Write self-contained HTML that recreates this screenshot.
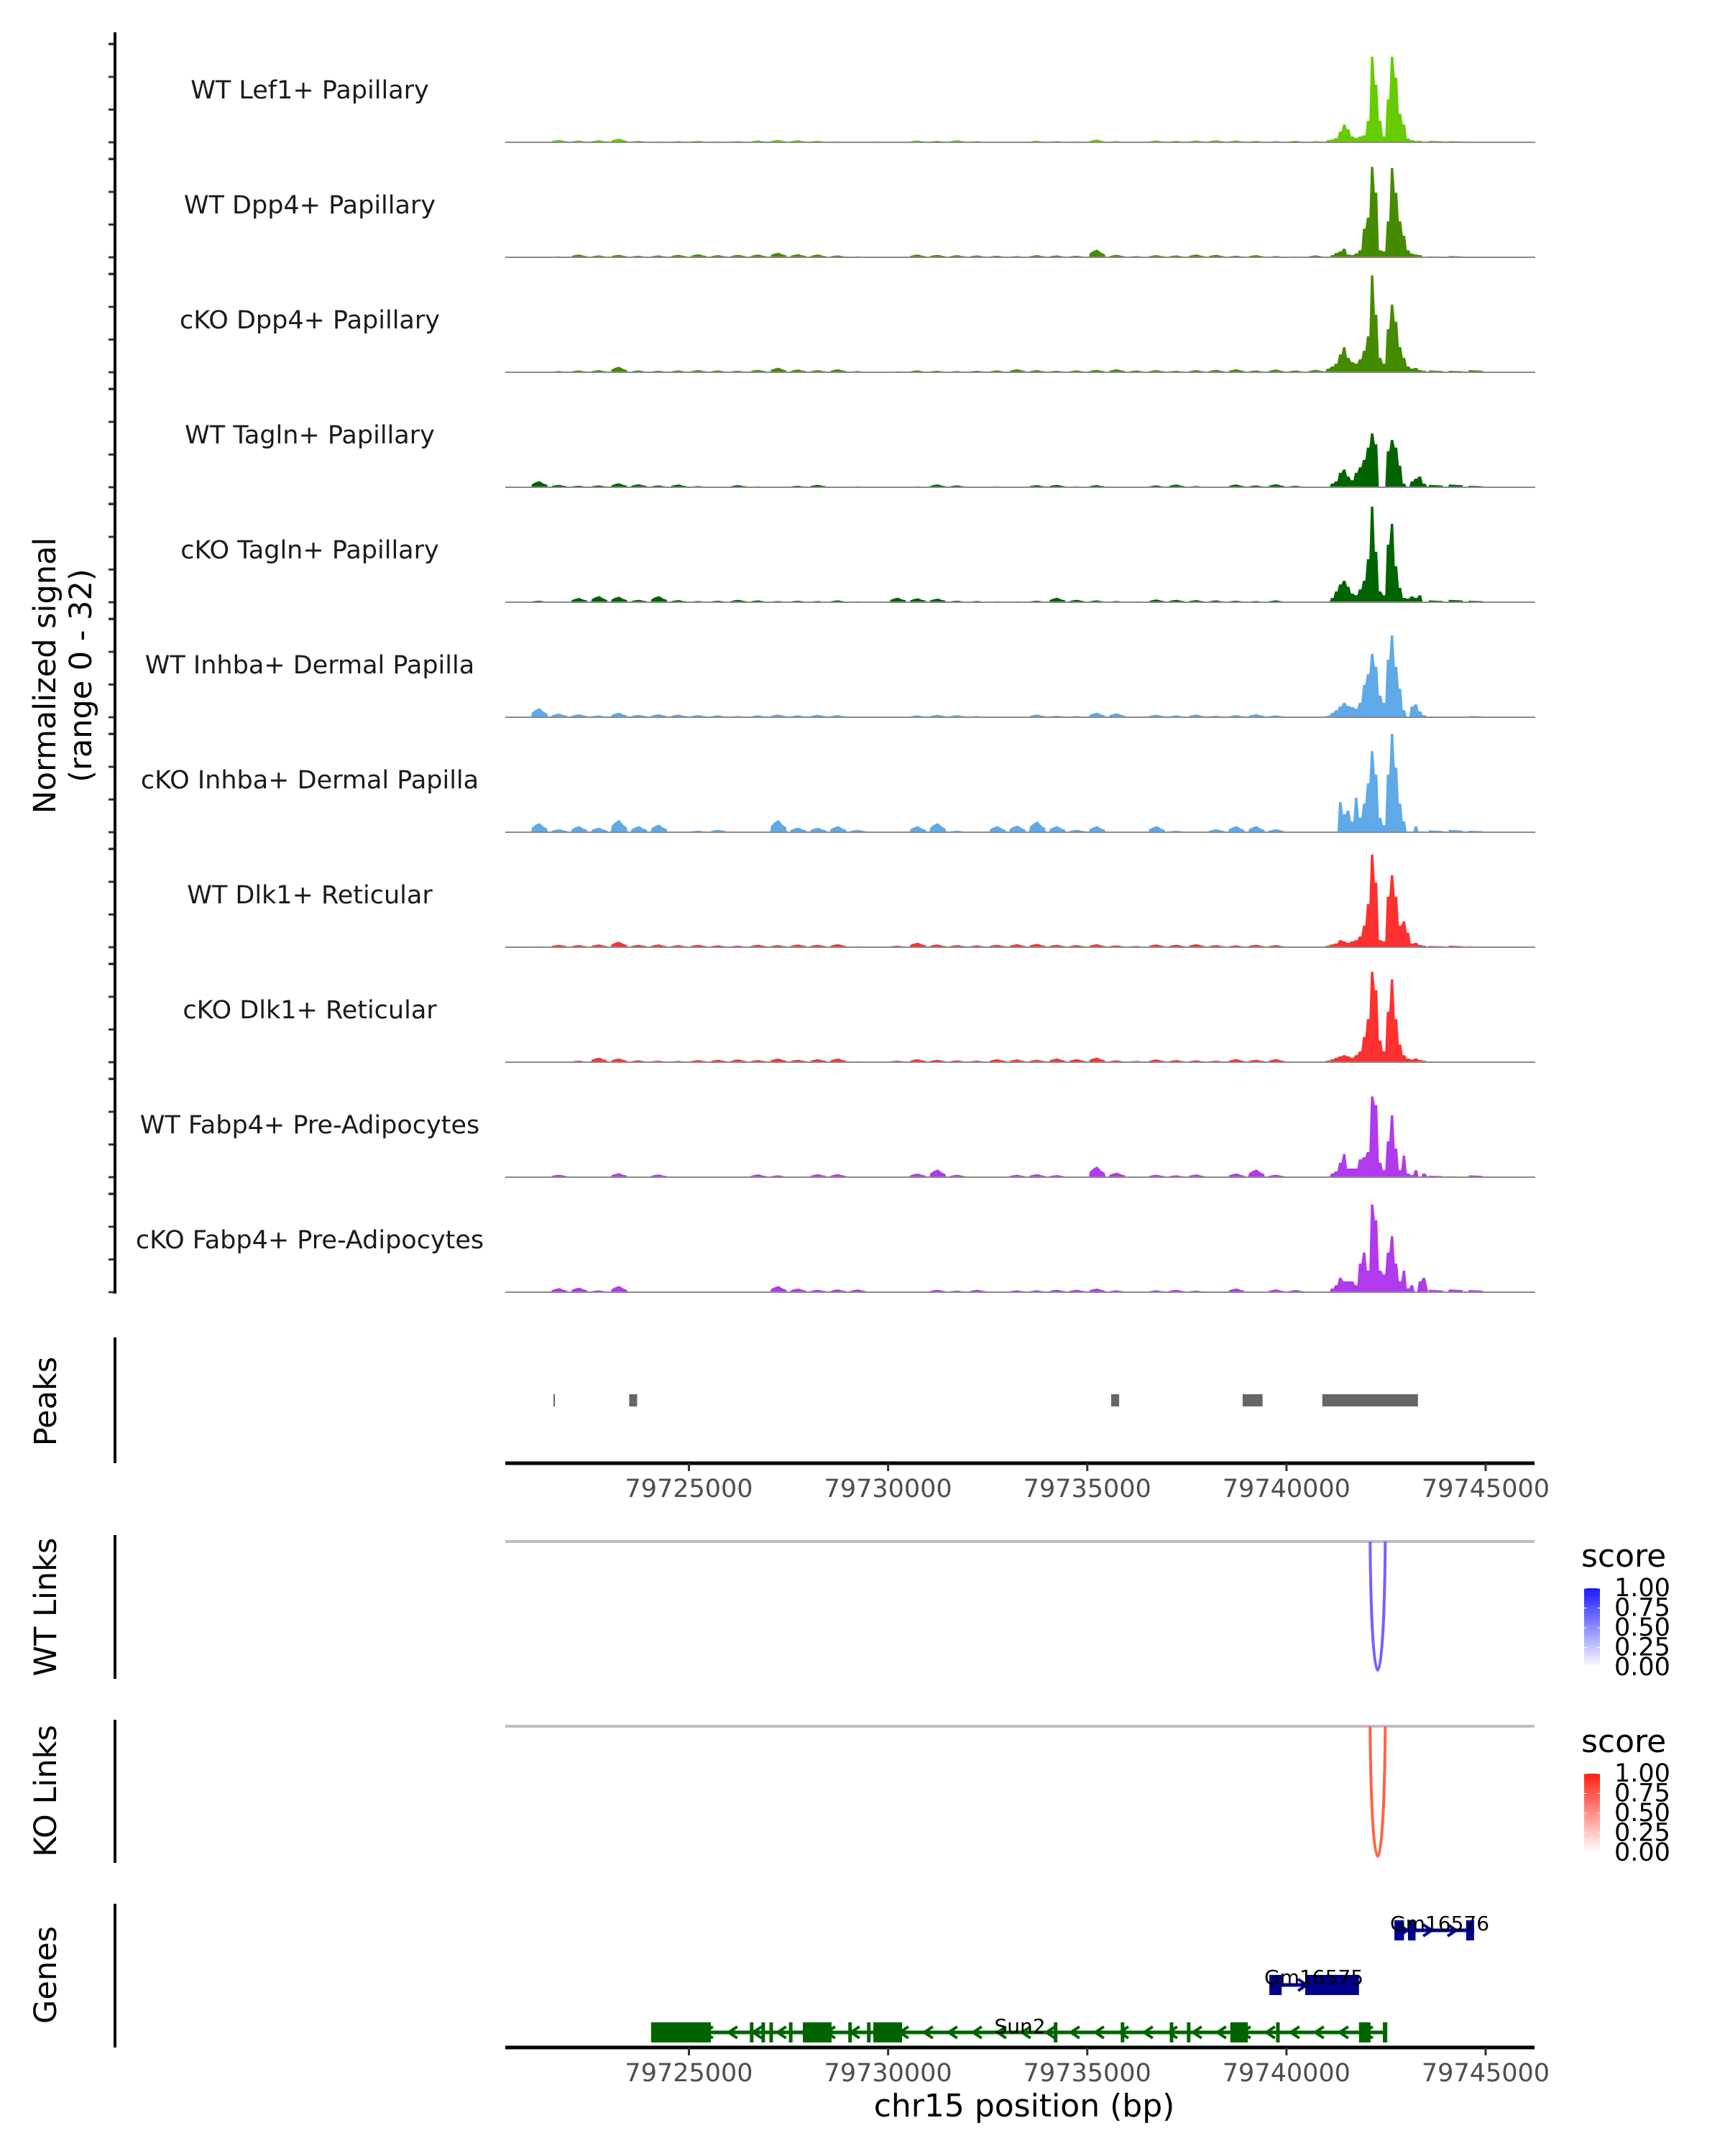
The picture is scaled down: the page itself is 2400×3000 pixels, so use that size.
<!DOCTYPE html>
<html><head><meta charset="utf-8"><style>
html,body{margin:0;padding:0;background:#fff;}
svg{display:block;font-family:"DejaVu Sans","Liberation Sans",sans-serif;}
</style></head><body>
<svg id="fig" width="2400" height="3000" viewBox="0 0 2400 3000" xmlns="http://www.w3.org/2000/svg"></svg>
<script>
// ---- data ----
const trackNames = ["WT Lef1+ Papillary","WT Dpp4+ Papillary","cKO Dpp4+ Papillary","WT Tagln+ Papillary","cKO Tagln+ Papillary","WT Inhba+ Dermal Papilla","cKO Inhba+ Dermal Papilla","WT Dlk1+ Reticular","cKO Dlk1+ Reticular","WT Fabp4+ Pre-Adipocytes","cKO Fabp4+ Pre-Adipocytes"];
const trackColors = ["#66cc00","#458b00","#458b00","#006400","#006400","#5fa9e9","#5fa9e9","#ff3030","#ff3030","#b23aee","#b23aee"];
// background signal, 500bp bins from 79721000 to 79741000
const bg1 = [0,0.8,0.6,0.7,1.2,0.5,0.3,0.4,0.5,0.3,0.4,0.6,0.8,0.7,0.5,0.3,0,0.3,0.2,0.6,0.5,0.7,0.4,0.2,0.3,0.5,0.4,0.3,0.9,0.4,0.3,0.6,0.5,0.6,0.7,0.6,0.5,0.4,0.5,0.4];
const bg2 = [0,0.3,0.9,0.6,0.8,0.5,0.6,0.8,1,0.7,0.8,0.9,1.5,1,0.9,0.6,0.3,0,0.2,0.9,0.8,0.7,0.6,0.5,0.4,0.7,0.6,0.5,2.5,0.8,0.4,0.7,0.6,0.9,0.8,0.5,0.7,0.4,0.3,0.6];
const bg3 = [0.2,0.4,0.6,0.7,1.8,0.6,0.5,0.6,0.7,0.6,0.5,0.8,1.5,0.9,0.7,1,0.4,0.2,0.3,0.6,0.5,0.4,0.5,0.6,1,0.7,0.5,0.6,0.8,1,0.6,0.7,0.5,0.7,0.8,1,0.6,0.9,0.6,0.8];
const bg4 = [2,0.8,0.5,0.6,1.3,1,0.6,0.9,0.4,0,0.7,0.3,0,0.5,0.8,0,0.3,0,0,0.3,0.9,0.6,0,0.3,0,0.7,0.8,0.3,0.7,0,0,0.6,0.9,0.4,0,0.9,0.6,1,0.5,0];
const bg5 = [0.5,0,1.4,2,1.8,0.8,2,0.7,0.4,0.5,0.8,0.6,0.4,0.5,0.4,0.6,0.3,0,1.5,1.3,1.2,0.5,0.4,0.3,0.3,0.5,1.5,0.8,0.6,0.4,0.3,0.9,0.8,0.7,0.6,0.5,0.4,0.6,0,0];
const bg6 = [3,1.2,1,0.6,1.5,0.8,1,0.9,0.7,0.6,0.4,0.6,0.9,0.6,0.8,0.7,0.3,0,0.2,0.6,0.8,0.7,0.4,0.2,0.3,0.9,0.5,0.4,1.5,1.3,0.3,0.8,0.6,0.9,0.5,0.7,1,0.6,0,0];
const bg7 = [3,1,2,1.5,4,2,2.5,0,0.5,0.8,0,0,4,1.5,1.5,2,0.8,0,0,2,3,0.5,0,2,2.2,3.5,2,0.8,2,0,0,2,0.5,0,1,2,2,1,0,0];
const bg8 = [0.3,0.8,0.7,0.9,1.8,0.8,0.9,0.7,0.8,0.6,0.5,0.8,0.7,0.9,0.8,1,0.3,0,0.5,1.5,0.9,0.7,0.6,0.8,1,1.1,0.8,0.7,1,0.6,0.4,0.9,0.8,1,0.7,0.6,0.8,0.7,0,0];
const bg9 = [0,0,0.5,1.5,1.2,0.6,0.5,0.4,0.7,0.8,0.9,0.7,1.2,0.8,1,1.2,0.3,0,0.5,1,0.8,0.6,0.5,1,0.9,0.8,1.2,1,1.5,0.6,0.4,0.9,0.7,0.6,0.5,1,0.8,1,0,0];
const bg10 = [0,0.8,0,0,1.3,0,0.9,0,0,0,0,0.9,0.6,0,1,1,0,0,0,1.2,2.5,0.8,0,0,0.8,1,0.7,0,3.5,1.5,0,0.8,0.6,0.9,0,1.2,2.5,0.8,0,0];
const bg11 = [0,1.3,1.5,0.6,2,0,0,0,0,0,0,0,2,1.2,0.8,0.9,0.9,0,0,0,0.8,0.5,0.8,0,0.6,0.6,0.8,0.8,1.2,0.6,0,0.6,0.8,0.5,0,1.2,0,0.9,0.7,0];
// peak region signal, 100bp bins from 79741000 to 79743500
const pk1 = [0.7,0.9,1.4,3.5,5.8,4.2,1.9,1.4,1.9,2.3,7,27.8,18.7,7,1.9,14,27.8,21,9.3,5.8,1.2,0.7,0.5,0.5,0.2];
const pk2 = [0,0.7,1.4,1.9,2.8,0.9,0.7,1.2,2.3,9.3,12.9,29.4,21,2.3,1.9,11.7,29,21,11.7,7,2.3,1.2,0.9,0.7,0.2];
const pk3 = [1.2,1.9,2.8,5.8,8.2,4.7,3.3,2.8,4.2,7,11.7,31.5,18.7,4.7,2.8,14,22,16.4,8.2,4.7,1.9,1.2,1.4,0.7,0.5];
const pk4 = [0,1.2,1.9,4.7,5.8,3.5,2.3,4.7,6.5,8.9,12.9,17.5,14,0,0,11.7,15.4,12.9,7,1.2,0,1.9,2.8,3.5,1.2];
const pk5 = [0,1.4,3.5,5.8,7,5.1,2.8,2.3,4.2,7,14,31.1,16.4,3.5,2.3,18.7,25.5,11.7,4.7,1.4,1.2,1.9,1.4,2.3,0];
const pk6 = [0.5,1.4,2.3,3.5,4.7,3.7,3.3,2.8,4.7,10.5,14,20.6,16.4,7,4.7,18.7,26.6,16.4,9.3,2.3,0,3.5,4.2,1.9,0.7];
const pk7 = [0,0,0,9.8,5.8,7,3.5,11.2,4.7,9.3,15.9,26.4,18.7,4.7,2.3,18.7,32,21,9.3,3.5,0,0,1.9,0,0];
const pk8 = [0.5,0.9,1.2,2.3,1.9,1.4,1.9,2.3,3.5,7,14,30.1,21,2.3,1.9,16.4,23.4,16.4,7,8.4,4.7,1.2,1.4,0.7,0.5];
const pk9 = [0.5,0.9,1.4,1.9,2.3,1.9,1.4,2.3,3.5,8.2,14,29.4,23.4,7,3.5,16.4,26.9,14,5.8,2.3,1.2,0.9,1.2,0.7,0.5];
const pk10 = [0,1.2,1.9,4.7,7.5,2.8,2.8,2.8,5.8,6.5,8.2,26.2,23.4,4.7,2.3,11.7,20.1,9.3,2.3,7,1.2,0.7,2.3,0,1.2];
const pk11 = [0,1.2,2.3,4.7,3.5,3.5,3.5,2.3,9.3,12.9,7,28.5,23.4,7,5.8,12.9,18.2,9.3,3.5,7,1.2,2.3,0,3.5,4.7];
// tail signal, 500bp bins from 79743500 to 79745000
const tl1 = [0.5,0.4,0.3], tl2=[0.3,0.4,0], tl3=[0.6,0.5,0.7], tl4=[0.8,0.9,0.5], tl5=[0.6,0.8,0.5];
const tl6 = [0.3,0,0.4], tl7=[0.6,0.8,0.5], tl8=[0.4,0.5,0.3], tl9=[0.3,0.2,0.2], tl10=[0.5,0.3,0.6], tl11=[0.8,0.9,0.7];
const bgSets = [bg1,bg2,bg3,bg4,bg5,bg6,bg7,bg8,bg9,bg10,bg11];
const pkSets = [pk1,pk2,pk3,pk4,pk5,pk6,pk7,pk8,pk9,pk10,pk11];
const tlSets = [tl1,tl2,tl3,tl4,tl5,tl6,tl7,tl8,tl9,tl10,tl11];
const peakStarts = [79721600,79723500,79735600,79738900,79740900];
const peakEnds   = [79721630,79723700,79735800,79739400,79743300];
const xTicks = [79725000,79730000,79735000,79740000,79745000];
const legendTicks = ["1.00","0.75","0.50","0.25","0.00"];
const wtLink = [79742100,79742480,1.0];
const koLink = [79742100,79742480,1.0];
// genes: [start,end]
const sun2Exons = [[79724050,79725550],[79726530,79726590],[79726820,79726880],[79727020,79727080],[79727510,79727570],[79727860,79728580],[79729000,79729060],[79729470,79729530],[79729630,79730350],[79734160,79734220],[79735840,79735900],[79737070,79737130],[79737500,79737560],[79738590,79739030],[79739740,79739800],[79741820,79742110],[79742420,79742530]];
const gm75Exons = [[79739570,79739880],[79740470,79741820]];
const gm76Exons = [[79742710,79742950],[79743050,79743240],[79744510,79744710]];

// ---- scales ----
const X0=703, X1=2135, BP0=79720390, BP1=79746227;
function xs(bp){return X0+(bp-BP0)/(BP1-BP0)*(X1-X0);}
const TRACK_H=137, SIGMAX=32;
function ys(base,v){return base-Math.min(v,SIGMAX)/SIGMAX*TRACK_H;}
const svg=document.getElementById('fig');
const NS="http://www.w3.org/2000/svg";
function mk(tag,attrs,parent){const e=document.createElementNS(NS,tag);for(const k in attrs)e.setAttribute(k,attrs[k]);(parent||svg).appendChild(e);return e;}
function txt(s,attrs,parent){const e=mk('text',attrs,parent);e.textContent=s;return e;}

// ---- signal tracks ----
const gTracks=mk('g',{});


for(let t=0;t<11;t++){
  const base=198+160*t;
  const g=mk('g',{},gTracks);
  
  
  let pts=[[xs(79721000),base]];
  bgSets[t].forEach((v,i)=>{const s=79721000+i*500;
    if(v<=0){pts.push([xs(s+100),base]);pts.push([xs(s+400),base]);return;}
    pts.push([xs(s+40),base]);pts.push([xs(s+60),ys(base,v*0.5)]);pts.push([xs(s+150),ys(base,v*0.8)]);
    pts.push([xs(s+250),ys(base,v)]);pts.push([xs(s+350),ys(base,v*0.6)]);pts.push([xs(s+440),ys(base,v*0.4)]);pts.push([xs(s+460),base]);});
  pkSets[t].forEach((v,i)=>{pts.push([xs(79741000+i*100+20),ys(base,v)]);pts.push([xs(79741000+i*100+80),ys(base,v)]);});
  tlSets[t].forEach((v,i)=>{const s=79743500+i*500;
    pts.push([xs(s+60),base]);pts.push([xs(s+80),ys(base,v)]);pts.push([xs(s+420),ys(base,v*0.7)]);pts.push([xs(s+440),base]);});
  pts.push([xs(79745000),base]);
  const area=mk('polygon',{points:pts.map(p=>p[0].toFixed(1)+','+p[1].toFixed(1)).join(' '),fill:trackColors[t]},g);
  
  
  const bl=mk('line',{x1:X0,x2:X1+1,y1:base,y2:base,stroke:'#8a8a8a','stroke-width':2},g);
  
  
  const lab=txt(trackNames[t],{x:431,y:base-72,'font-size':35,'text-anchor':'middle','dominant-baseline':'central',fill:'#1a1a1a'},g);
  
  
  for(let k=0;k<4;k++){const ty=base-45.5*k;
    mk('line',{x1:151,x2:160,y1:ty,y2:ty,stroke:'#333','stroke-width':3},g);}
  const tt=base-137;mk('line',{x1:151,x2:160,y1:tt,y2:tt,stroke:'#333','stroke-width':3},g);
}
const yax=mk('line',{x1:160,x2:160,y1:45,y2:1800,stroke:'#000','stroke-width':4});


const yt=mk('g',{transform:'translate(89,940) rotate(-90)'});


txt('Normalized signal',{x:0,y:-12,'font-size':43,'text-anchor':'middle'},yt);
txt('(range 0 - 32)',{x:0,y:38,'font-size':43,'text-anchor':'middle'},yt);

function sectionLabel(s,cy,name){const g=mk('g',{transform:'translate(64,'+cy+') rotate(-90)'});
  
  
  txt(s,{x:0,y:0,'font-size':43,'text-anchor':'middle','dominant-baseline':'central'},g);}
function leftAxis(y1,y2,name){const l=mk('line',{x1:160,x2:160,y1:y1,y2:y2,stroke:'#000','stroke-width':4});
  
  }
function xAxis(y,name){const g=mk('g',{});
  
  
  mk('line',{x1:X0,x2:X1,y1:y,y2:y,stroke:'#000','stroke-width':5},g);
  xTicks.forEach(v=>{const x=xs(v);mk('line',{x1:x,x2:x,y1:y,y2:y+11,stroke:'#333','stroke-width':3},g);
    const l=txt(String(v),{x:x,y:y+47,'font-size':35,'text-anchor':'middle',fill:'#4d4d4d'},g);
    
    });}

// ---- peaks ----
sectionLabel('Peaks',1950,'peaks-label');
leftAxis(1861,2036,'peaks-axis');
const gp=mk('g',{});


peakStarts.forEach((s,i)=>{const x=xs(s),w=Math.max(2,xs(peakEnds[i])-x);
  const r=mk('rect',{x:x,y:1940,width:w,height:17,fill:'#666'},gp);
  
  });
xAxis(2036,'peaks-x-axis');

// ---- links ----
function linkPanel(base,bottom,color,label,cy,y1,y2,name,link,grad,legTop,c1,c2){
  sectionLabel(label,cy,name+'-label');
  leftAxis(y1,y2,name+'-axis');
  const bl=mk('line',{x1:X0,x2:X1,y1:base,y2:base,stroke:'#bebebe','stroke-width':4});
  
  
  const a=xs(link[0]),b=xs(link[1]);const c=(bottom-0.25*base)/0.75;
  const p=mk('path',{d:`M${a},${base} C${a+2},${c} ${b-2},${c} ${b},${base}`,fill:'none',stroke:color,'stroke-width':4});
  
  
  const lg=mk('g',{});
  
  
  const defs=mk('defs',{},lg);
  const gr=mk('linearGradient',{id:grad,x1:0,y1:0,x2:0,y2:1},defs);
  mk('stop',{offset:'0','stop-color':c1},gr);mk('stop',{offset:'1','stop-color':c2},gr);
  txt('score',{x:2200,y:legTop-30,'font-size':44},lg);
  mk('rect',{x:2204,y:legTop,width:22,height:110,fill:`url(#${grad})`},lg);
  legendTicks.forEach((s,i)=>{const yy=legTop+i*27.5;
    mk('line',{x1:2204,x2:2208,y1:yy,y2:yy,stroke:'#fff','stroke-width':1},lg);
    mk('line',{x1:2222,x2:2226,y1:yy,y2:yy,stroke:'#fff','stroke-width':1},lg);
    txt(s,{x:2246,y:yy,'font-size':35,'dominant-baseline':'central'},lg);});
}
linkPanel(2145,2324,'#7f5cff','WT Links',2236,2136,2336,'wt-links',wtLink,'gwt',2210,'#1a1aff','#ffffff');
linkPanel(2402,2583,'#ff6448','KO Links',2492,2393,2592,'ko-links',koLink,'gko',2468,'#ff2010','#ffffff');

// ---- genes ----
sectionLabel('Genes',2748,'genes-label');
leftAxis(2649,2849,'genes-axis');
function gene(name,exons,yc,color,strand,lx,ly){
  const g=mk('g',{});
  
  
  const s=xs(exons[0][0]),e=xs(exons[exons.length-1][1]);
  mk('line',{x1:s,x2:e,y1:yc,y2:yc,stroke:color,'stroke-width':5},g);
  for(let x=s+12;x<e-5;x+=34){const d=strand<0?-6:6;
    mk('polyline',{points:`${x-d},${yc-8} ${x+d},${yc} ${x-d},${yc+8}`,fill:'none',stroke:color,'stroke-width':4},g);}
  exons.forEach(ex=>{const x=xs(ex[0]),w=Math.max(5,xs(ex[1])-x);
    const r=mk('rect',{x:x,y:yc-14,width:w,height:28,fill:color},g);
    
    });
  const t=txt(name,{x:lx,y:ly,'font-size':28,'text-anchor':'middle',fill:'#000'},g);
  
  
}
gene('Sun2',sun2Exons,2828,'#006400',-1,1419,2829);
gene('Gm16575',gm75Exons,2762,'#00008b',1,1828,2761);
gene('Gm16576',gm76Exons,2686,'#00008b',1,2003,2686);
xAxis(2849,'genes-x-axis');
const xt=txt('chr15 position (bp)',{x:1425,y:2945,'font-size':44,'text-anchor':'middle'});


</script>
</body></html>
